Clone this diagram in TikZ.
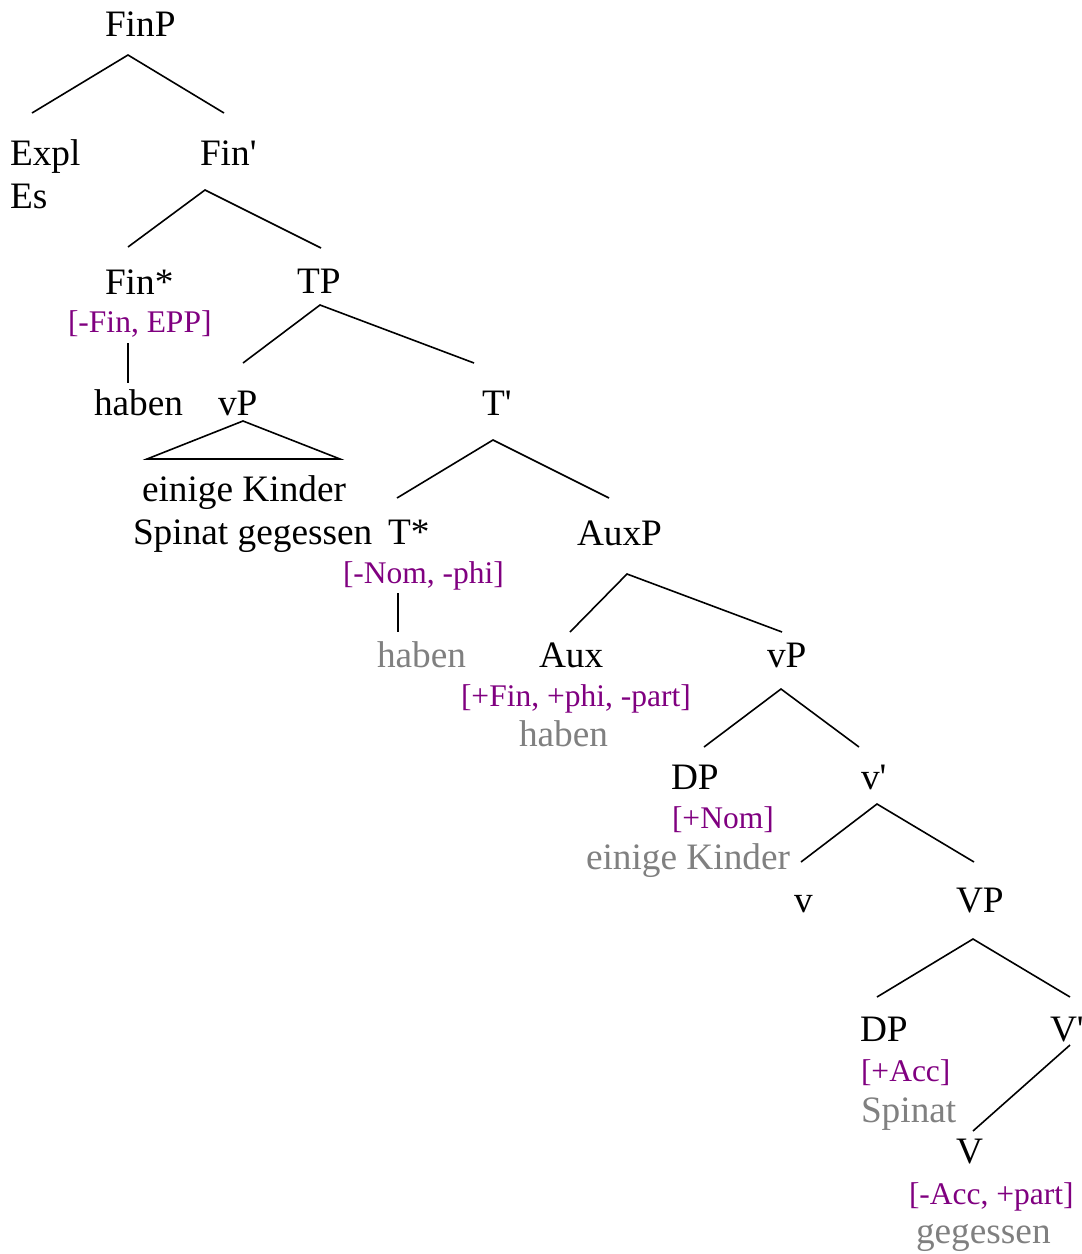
\documentclass[tikz,border=0pt]{standalone}
\usepackage{fontspec}
\setmainfont{Liberation Serif}
\definecolor{feat}{RGB}{128,0,128}
\definecolor{trace}{RGB}{128,128,128}
\newcommand{\xbar}{\textquotesingle}
\begin{document}
\begin{tikzpicture}[x=1pt,y=-1pt,
  lab/.style={anchor=base west,inner sep=0pt,outer sep=0pt,font=\fontsize{37.3}{44}\selectfont},
  featl/.style={lab,text=feat,font=\fontsize{31.5}{37}\selectfont},
  gr/.style={lab,text=trace},
  br/.style={line width=1.6pt}]
\useasboundingbox (0,0) rectangle (1082,1254);
% nodes
\node[lab] (finp) at (105,36) {FinP};
\node[lab] (expl) at (10,165) {Expl};
\node[lab] (es) at (10,208) {Es};
\node[lab] (finbar) at (200,165) {Fin\xbar};
\node[lab] (finstar) at (105,294) {Fin*};
\node[featl] (finfeat) at (68,332) {[-Fin, EPP]};
\node[lab] (haben1) at (94,415) {haben};
\node[lab] (tp) at (297,293) {TP};
\node[lab] (vp1) at (218,415) {vP};
\node[lab] (tbar) at (482,415) {T\xbar};
\node[lab] (ek1) at (142,501) {einige Kinder};
\node[lab] (sg) at (133,544) {Spinat gegessen};
\node[lab] (tstar) at (388,544) {T*};
\node[lab] (auxp) at (577,545) {AuxP};
\node[featl] (tfeat) at (343,583) {[-Nom, -phi]};
\node[gr] (haben2) at (377,667) {haben};
\node[lab] (aux) at (539,667) {Aux};
\node[lab] (vp2) at (767,667) {vP};
\node[featl] (auxfeat) at (461,706) {[+Fin, +phi, -part]};
\node[gr] (haben3) at (519,746) {haben};
\node[lab] (dp1) at (671,789) {DP};
\node[lab] (vbar) at (861,789) {v\xbar};
\node[featl] (nom) at (672,828) {[+Nom]};
\node[gr] (ek2) at (586,869) {einige Kinder};
\node[lab] (v) at (794,912) {v};
\node[lab] (VP) at (956,912) {VP};
\node[lab] (dp2) at (860,1041) {DP};
\node[lab] (Vbar) at (1050,1041) {V\xbar};
\node[featl] (acc) at (861,1081) {[+Acc]};
\node[gr] (spinat) at (861,1122) {Spinat};
\node[lab] (V) at (956,1163) {V};
\node[featl] (vfeat) at (909,1204) {[-Acc, +part]};
\node[gr] (geg) at (916,1243) {gegessen};
% branch points
\coordinate (finp-b) at (128,55);
\coordinate (expl-t) at (32,113);
\coordinate (finbar-t) at (224,113);
\coordinate (finbar-b) at (205,190);
\coordinate (finstar-t) at (128,247);
\coordinate (tp-t) at (321,248);
\coordinate (finfeat-b) at (128,343);
\coordinate (haben1-t) at (128,383);
\coordinate (tp-b) at (320,305);
\coordinate (vp1-t) at (243,363);
\coordinate (tbar-t) at (474,363);
\coordinate (vp1-b) at (243,421);
\coordinate (tri-l) at (147,459);
\coordinate (tri-r) at (340,459);
\coordinate (tbar-b) at (493,440);
\coordinate (tstar-t) at (397,498);
\coordinate (auxp-t) at (609,498);
\coordinate (tfeat-b) at (398,593);
\coordinate (haben2-t) at (398,632);
\coordinate (auxp-b) at (627,574);
\coordinate (aux-t) at (570,632);
\coordinate (vp2-t) at (782,632);
\coordinate (vp2-b) at (781,689);
\coordinate (dp1-t) at (704,747);
\coordinate (vbar-t) at (859,747);
\coordinate (vbar-b) at (877,804);
\coordinate (v-t) at (801,862);
\coordinate (VP-t) at (974,862);
\coordinate (VP-b) at (973,939);
\coordinate (dp2-t) at (877,997);
\coordinate (Vbar-t) at (1070,997);
\coordinate (Vbar-b) at (1070,1045);
\coordinate (V-t) at (973,1131);
% connectors
\draw[br] (expl-t) -- (finp-b) -- (finbar-t);
\draw[br] (finstar-t) -- (finbar-b) -- (tp-t);
\draw[br] (finfeat-b) -- (haben1-t);
\draw[br] (vp1-t) -- (tp-b) -- (tbar-t);
\draw[br] (vp1-b) -- (tri-l) -- (tri-r) -- cycle;
\draw[br] (tstar-t) -- (tbar-b) -- (auxp-t);
\draw[br] (tfeat-b) -- (haben2-t);
\draw[br] (aux-t) -- (auxp-b) -- (vp2-t);
\draw[br] (dp1-t) -- (vp2-b) -- (vbar-t);
\draw[br] (v-t) -- (vbar-b) -- (VP-t);
\draw[br] (dp2-t) -- (VP-b) -- (Vbar-t);
\draw[br] (Vbar-b) -- (V-t);
\end{tikzpicture}
\end{document}
